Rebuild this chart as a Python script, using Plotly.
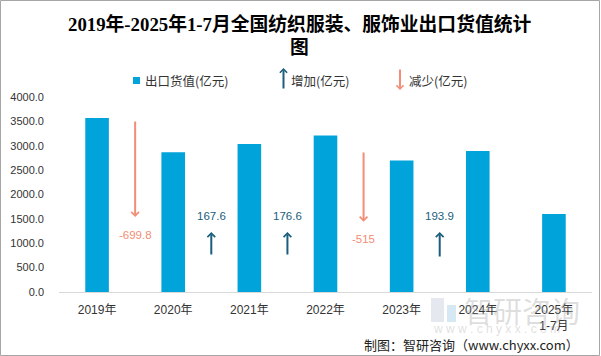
import plotly.graph_objects as go

# ---- data ----
categories = ["2019年", "2020年", "2021年", "2022年", "2023年", "2024年", "2025年<br>1-7月"]
export_values = [3568.0, 2868.2, 3035.8, 3212.4, 2697.4, 2891.3, 1600.0]
change_labels = ["-699.8", "167.6", "176.6", "-515", "193.9"]
change_pos = [0.5, 1.5, 2.5, 3.5, 4.5]          # between categories
change_dir = ["down", "up", "up", "down", "up"]
arrow_tail = [3530, 740, 740, 2890, 700]
arrow_head = [1540, 1230, 1230, 1440, 1230]
label_y = [1170, 1560, 1560, 1090, 1560]

BAR = "#00A3DA"
UP = "#1B5E7C"
DOWN = "#F28D76"

W, H = 601, 356
L, R, T, B = 59, 9, 97, 64
PW, PH = W - L - R, H - T - B

def px(x):
    return (x - L) / PW

def py(y):
    return (H - B - y) / PH

fig = go.Figure()
fig.add_trace(go.Bar(x=list(range(len(categories))), y=export_values,
                     marker=dict(color=BAR, line=dict(width=0)),
                     width=0.31, showlegend=False, hoverinfo="y"))

ann = []
for p, d, t0, t1, lab, ly in zip(change_pos, change_dir, arrow_tail, arrow_head, change_labels, label_y):
    col = UP if d == "up" else DOWN
    ann.append(dict(x=p, y=t1, ax=p, ay=t0, xref="x", yref="y", axref="x", ayref="y",
                    text="", showarrow=True, arrowhead=4, arrowsize=0.75, arrowwidth=2,
                    arrowcolor=col, standoff=0))
    ann.append(dict(x=p, y=ly, xref="x", yref="y", text=lab, showarrow=False,
                    xanchor="center", yanchor="middle",
                    font=dict(size=11.5, color=col, family="Liberation Sans, Noto Sans CJK SC")))

def txt(x, y, s, font, xa="center"):
    return dict(x=px(x), y=py(y), xref="paper", yref="paper", xanchor=xa, yanchor="middle",
                text=s, showarrow=False, font=font)

tf = dict(size=18.8, color="#000", family="Liberation Serif, Noto Sans CJK SC")
ann.append(txt(299, 24, "<b>2019年-2025年1-7月全国纺织服装、服饰业出口货值统计</b>", tf))
ann.append(txt(299, 47, "<b>图</b>", tf))

lf = dict(size=12.5, color="#333", family="Noto Sans CJK SC")
ann.append(txt(143, 80, "出口货值(亿元)", lf, "left"))
ann.append(txt(289, 80, "增加(亿元)", lf, "left"))
ann.append(txt(407, 80, "减少(亿元)", lf, "left"))
ann.append(dict(x=px(283.5), y=py(68), ax=0, ay=22, xref="paper", yref="paper",
                text="", showarrow=True, arrowhead=4, arrowsize=0.7, arrowwidth=2,
                arrowcolor=UP, standoff=0))
ann.append(dict(x=px(400), y=py(90), ax=0, ay=-22, xref="paper", yref="paper",
                text="", showarrow=True, arrowhead=4, arrowsize=0.7, arrowwidth=2,
                arrowcolor=DOWN, standoff=0))

# watermark
ann.append(txt(462, 310, "智研咨询",
               dict(size=29, color="rgba(160,160,160,0.35)", family="Noto Sans CJK SC"), "left"))
ann.append(txt(431, 329, "w w w . c h y x x . c o m",
               dict(size=12, color="rgba(160,160,160,0.35)", family="Liberation Sans"), "left"))
# source
ann.append(txt(581, 344, "制图：智研咨询（www.chyxx.com）",
               dict(size=13, color="#222", family="Noto Sans CJK SC"), "right"))

shapes = [
    dict(type="rect", xref="paper", yref="paper", x0=px(133), x1=px(140), y0=py(84), y1=py(77),
         fillcolor=BAR, line=dict(width=0)),
    # watermark logo blocks
    dict(type="rect", xref="paper", yref="paper", x0=px(431), x1=px(444), y0=py(322), y1=py(298),
         fillcolor="rgba(170,180,200,0.3)", line=dict(width=0)),
    dict(type="rect", xref="paper", yref="paper", x0=px(447), x1=px(456), y0=py(322), y1=py(305),
         fillcolor="rgba(120,180,220,0.3)", line=dict(width=0)),
    # outer border
    dict(type="rect", xref="paper", yref="paper", x0=px(0.5), x1=px(W - 1.5), y0=py(H - 0.5), y1=py(0.5),
         line=dict(color="#A6A6A6", width=1), fillcolor="rgba(0,0,0,0)"),
]

fig.update_layout(
    width=W, height=H, margin=dict(l=L, r=R, t=T, b=B, autoexpand=False),
    paper_bgcolor="white", plot_bgcolor="white",
    annotations=ann, shapes=shapes, showlegend=False, bargap=0.69,
    xaxis=dict(tickmode="array", tickvals=list(range(len(categories))), ticktext=categories,
               range=[-0.5, len(categories) - 0.5], showline=True, linecolor="#D9D9D9",
               linewidth=1, showgrid=False, zeroline=False, ticks="", automargin=False,
               ticklabelstandoff=7,
               tickfont=dict(size=12, color="#333", family="Liberation Sans, Noto Sans CJK SC")),
    yaxis=dict(range=[0, 4000], dtick=500, tickformat=".1f", showgrid=False, zeroline=False,
               showline=False, ticks="", ticklabelstandoff=14, automargin=False,
               tickfont=dict(size=11, color="#333", family="Liberation Sans, Noto Sans CJK SC")),
)

fig.write_html("out.html", config={"displayModeBar": False},
               post_script="document.body.style.margin='0';document.body.style.overflow='hidden';")
